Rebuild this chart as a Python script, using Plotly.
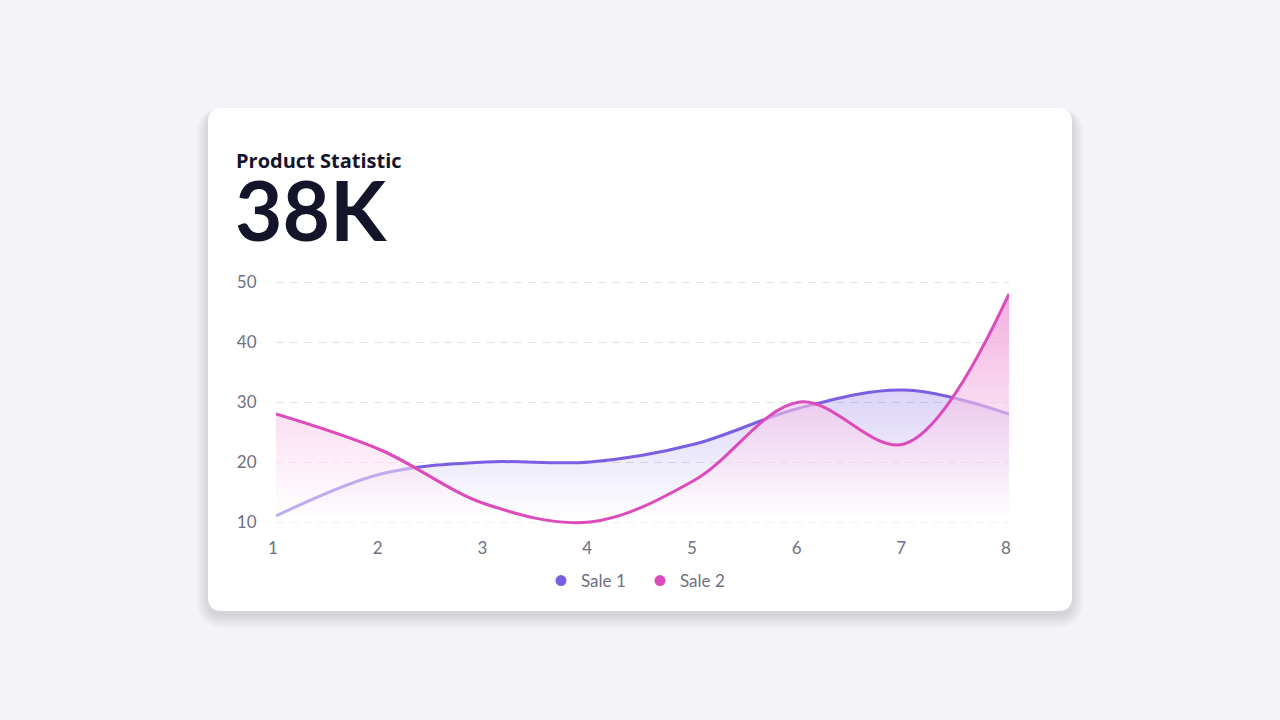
import plotly.graph_objects as go

# ---- data ----
x_vals = [1, 2, 3, 4, 5, 6, 7, 8]
sale1 = [11, 18, 20, 20, 23, 29, 32, 28]
sale2 = [28, 22, 13, 10, 17, 30, 23, 48]
y_ticks = [10, 20, 30, 40, 50]
series_names = ["Sale 1", "Sale 2"]
title_text = "Product Statistic"
big_value = "38K"

C1 = "#7B5FE2"
C2 = "#DD4AB9"
BG = "#F4F3F8"
TICK = "#6F6F82"
FONT = "Lato"
YR = [9.5, 50.5]

W, H = 1280, 720
PL, PR, PT, PB = 276, 1009, 279, 525  # plot area in px


def px2x(px):
    return (px - PL) / (PR - PL)


def px2y(py):
    return (PB - py) / (PB - PT)


def rrect(x0, y0, x1, y1, r):
    X = px2x
    Y = px2y
    return (
        f"M {X(x0 + r)} {Y(y0)} L {X(x1 - r)} {Y(y0)} Q {X(x1)} {Y(y0)} {X(x1)} {Y(y0 + r)} "
        f"L {X(x1)} {Y(y1 - r)} Q {X(x1)} {Y(y1)} {X(x1 - r)} {Y(y1)} "
        f"L {X(x0 + r)} {Y(y1)} Q {X(x0)} {Y(y1)} {X(x0)} {Y(y1 - r)} "
        f"L {X(x0)} {Y(y0 + r)} Q {X(x0)} {Y(y0)} {X(x0 + r)} {Y(y0)} Z"
    )


shapes = []
# soft shadow
for k in range(1, 16):
    shapes.append(dict(type="path", xref="paper", yref="paper", layer="below",
                       path=rrect(208 - k * 0.8, 108 + 4 - k * 0.3, 1072 + k * 0.8, 611 + 4 + k * 0.9, 14 + k),
                       fillcolor="rgba(60,60,110,0.012)", line=dict(width=0)))
# card
shapes.append(dict(type="path", xref="paper", yref="paper", layer="below",
                   path=rrect(208, 108, 1072, 611, 14),
                   fillcolor="white", line=dict(width=0)))

fig = go.Figure()
fig.add_trace(go.Scatter(
    x=x_vals, y=sale1, name=series_names[0], mode="lines", yaxis="y",
    line=dict(color=C1, width=3, shape="spline", smoothing=1.0),
    fill="tozeroy",
    fillgradient=dict(type="vertical", start=10, stop=32,
                      colorscale=[[0, "rgba(123,95,226,0)"], [1, "rgba(123,95,226,0.27)"]]),
    showlegend=False, hoverinfo="skip"))
fig.add_trace(go.Scatter(
    x=x_vals, y=sale2, name=series_names[1], mode="lines", yaxis="y2",
    line=dict(color=C2, width=3, shape="spline", smoothing=1.0),
    fill="tozeroy",
    fillgradient=dict(type="vertical", start=10, stop=48,
                      colorscale=[[0, "rgba(255,255,255,0.5)"], [1, "rgba(238,140,210,0.72)"]]),
    showlegend=False, hoverinfo="skip"))
# legend entries as dots
for nm, c in zip(series_names, [C1, C2]):
    fig.add_trace(go.Scatter(x=[None], y=[None], mode="markers", name=nm,
                             marker=dict(color=c, size=11)))

fig.update_layout(
    width=W, height=H, autosize=False,
    margin=dict(l=PL, r=W - PR, t=PT, b=H - PB, pad=0),
    paper_bgcolor=BG, plot_bgcolor="rgba(0,0,0,0)",
    font=dict(family=FONT, color=TICK, size=16),
    shapes=shapes,
    showlegend=True,
    legend=dict(orientation="h", x=px2x(640), xanchor="center", y=px2y(581), yanchor="middle",
                font=dict(size=17, color=TICK, family=FONT), itemwidth=30,
                entrywidth=54, entrywidthmode="pixels",
                bgcolor="rgba(0,0,0,0)"),
    annotations=[
        dict(text=f"<b>{title_text}</b>", xref="paper", yref="paper", x=px2x(234), y=px2y(160),
             xanchor="left", yanchor="middle", showarrow=False,
             font=dict(size=20, color="#14142B", family="Open Sans")),
        dict(text=f"<b>{big_value}</b>", xref="paper", yref="paper", x=px2x(233), y=px2y(209),
             xanchor="left", yanchor="middle", showarrow=False,
             font=dict(size=82, color="#14142B", family=FONT, weight=900)),
    ],
    yaxis2=dict(overlaying="y", range=YR, visible=False, showgrid=False, fixedrange=True),
)
fig.update_xaxes(range=[1, 8], tickvals=x_vals, ticktext=[str(v) for v in x_vals],
                 showgrid=False, zeroline=False, showline=False,
                 ticks="outside", ticklen=8, tickcolor="rgba(0,0,0,0)", ticklabelshift=-3,
                 tickfont=dict(size=17, color=TICK, family=FONT), fixedrange=True)
fig.update_layout(yaxis=dict(range=YR, tickvals=y_ticks, showgrid=True, gridcolor="#E1E1E8",
                             griddash="8px,6px", gridwidth=1, zeroline=False, showline=False,
                             ticks="outside", ticklen=15, tickcolor="rgba(0,0,0,0)",
                             tickfont=dict(size=17, color=TICK, family=FONT), fixedrange=True))

fig.write_html("out.html", config={"displayModeBar": False},
               post_script="document.body.style.margin='0';document.body.style.overflow='hidden';")
